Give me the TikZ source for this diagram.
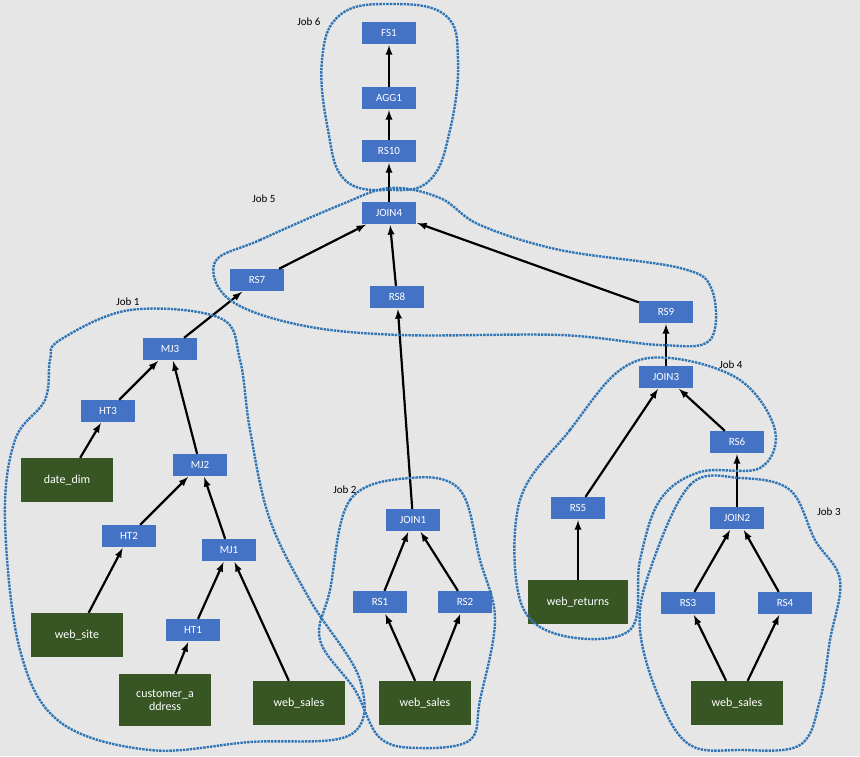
\documentclass[tikz,border=0pt]{standalone}
\usepackage{fontspec}
\setmainfont{Carlito}
\begin{document}
\begin{tikzpicture}[x=1pt,y=-1pt,
  op/.style={fill=opblue,text=white,font=\fontsize{11}{12}\selectfont,minimum height=22pt,minimum width=54pt,inner sep=2pt},
  tab/.style={fill=tabgreen,text=white,font=\fontsize{12}{13}\selectfont,minimum height=44pt,minimum width=92pt,align=center,inner sep=2pt},
  arr/.style={->,>=latex,line width=2.2pt,shorten >=1pt},
  job/.style={draw=jobline,densely dotted,line width=2.4pt},
  lab/.style={font=\fontsize{11}{12}\selectfont}]
\definecolor{opblue}{HTML}{4472C4}
\definecolor{tabgreen}{HTML}{375623}
\definecolor{jobline}{HTML}{2E75B6}
\definecolor{bg}{HTML}{E7E6E6}
\fill[bg] (0,0) rectangle (860,756);
\useasboundingbox (0,0) rectangle (860,756);
% nodes
\node[op] (fs1) at (389,33) {FS1};
\node[op] (agg1) at (389,98) {AGG1};
\node[op] (rs10) at (389,151) {RS10};
\node[op] (join4) at (389,213) {JOIN4};
\node[op] (rs7) at (257,280) {RS7};
\node[op] (rs8) at (397,297) {RS8};
\node[op] (rs9) at (666,312) {RS9};
\node[op] (mj3) at (170,349) {MJ3};
\node[op] (ht3) at (108,411) {HT3};
\node[tab] (date) at (67,480) {date\_dim};
\node[op] (mj2) at (200,465) {MJ2};
\node[op] (ht2) at (129,536) {HT2};
\node[op] (mj1) at (229,550) {MJ1};
\node[tab] (site) at (77,635) {web\_site};
\node[op] (ht1) at (193,630) {HT1};
\node[tab,minimum height=52pt] (cust) at (165,700) {customer\_a\\ddress};
\node[tab] (ws1) at (299,703) {web\_sales};
\node[op] (join1) at (413,520) {JOIN1};
\node[op] (rs1) at (380,602) {RS1};
\node[op] (rs2) at (465,602) {RS2};
\node[tab] (ws2) at (425,703) {web\_sales};
\node[op] (rs5) at (578,508) {RS5};
\node[tab,minimum width=100pt] (ret) at (578,602) {web\_returns};
\node[op] (join3) at (666,377) {JOIN3};
\node[op] (rs6) at (737,442) {RS6};
\node[op] (join2) at (737,518) {JOIN2};
\node[op] (rs3) at (688,603) {RS3};
\node[op] (rs4) at (785,603) {RS4};
\node[tab] (ws3) at (737,703) {web\_sales};
% edges
\foreach \a/\b in {agg1/fs1,rs10/agg1,join4/rs10,rs7/join4,rs8/join4,rs9/join4,
  mj3/rs7,ht3/mj3,mj2/mj3,date/ht3,ht2/mj2,mj1/mj2,site/ht2,ht1/mj1,ws1/mj1,cust/ht1,
  join1/rs8,rs1/join1,rs2/join1,ws2/rs1,ws2/rs2,
  join3/rs9,rs5/join3,rs6/join3,ret/rs5,join2/rs6,rs3/join2,rs4/join2,ws3/rs3,ws3/rs4}
  \draw[arr] (\a) -- (\b);
% job regions
\draw[job] plot[smooth cycle,tension=0.7] coordinates {(340,15) (390,4) (445,15) (458,60) (450,130) (430,180) (390,190) (345,180) (328,130) (322,60)};
\draw[job] plot[smooth cycle,tension=0.6] coordinates {(215,262) (260,240) (340,205) (390,188) (440,198) (480,225) (560,250) (680,268) (712,290) (710,340) (660,345) (560,335) (400,335) (300,325) (230,300)};
\draw[job] plot[smooth cycle,tension=0.6] coordinates {(60,340) (130,310) (220,318) (240,360) (250,430) (270,520) (310,600) (360,680) (350,735) (250,742) (150,750) (60,722) (20,650) (5,520) (15,440) (45,400) (50,360)};
\draw[job] plot[smooth cycle,tension=0.6] coordinates {(330,590) (350,500) (410,478) (460,490) (480,560) (495,620) (480,700) (470,740) (420,748) (380,738) (355,690) (320,640)};
\draw[job] plot[smooth cycle,tension=0.6] coordinates {(520,500) (570,430) (620,370) (670,358) (740,380) (775,430) (760,468) (700,472) (660,500) (640,560) (630,630) (560,635) (520,600)};
\draw[job] plot[smooth cycle,tension=0.6] coordinates {(650,570) (690,485) (740,478) (790,490) (815,540) (840,580) (830,640) (820,700) (800,745) (740,750) (690,745) (660,700) (640,630)};
% labels
\node[lab] (j6) at (309,22) {Job 6};
\node[lab] (j5) at (264,199) {Job 5};
\node[lab] (j1) at (128,302) {Job 1};
\node[lab] (j2) at (345,490) {Job 2};
\node[lab] (j4) at (731,365) {Job 4};
\node[lab] (j3) at (829,512) {Job 3};
\end{tikzpicture}
\end{document}
